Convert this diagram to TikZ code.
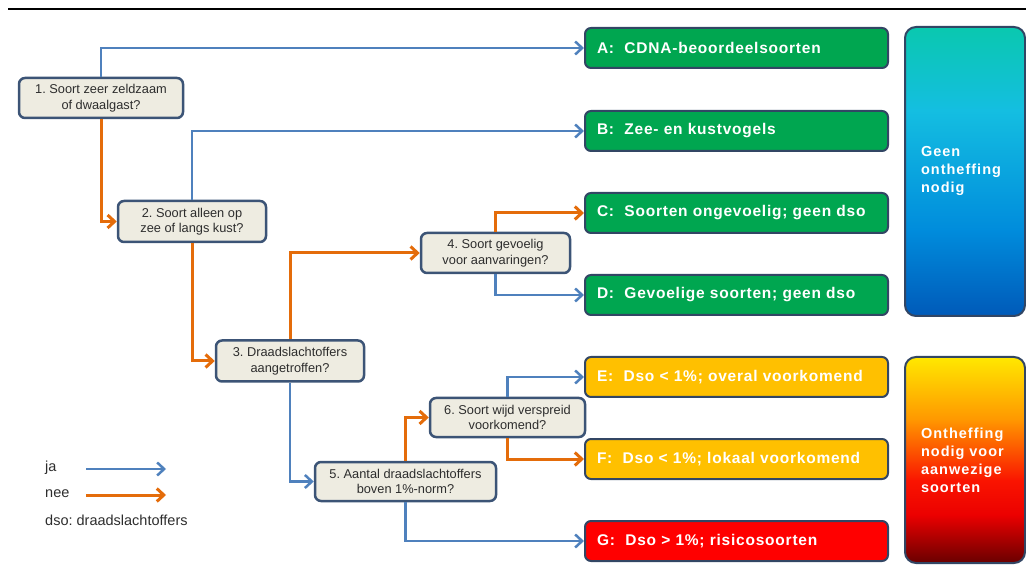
\documentclass[tikz,border=0pt]{standalone}
\usepackage{fontspec}
\setmainfont{Liberation Sans}
\newfontfamily\resfont[LetterSpace=5]{Liberation Sans}
\newfontfamily\sidefont[LetterSpace=7]{Liberation Sans}
\usetikzlibrary{arrows.meta}
\frenchspacing
\definecolor{qfill}{RGB}{238,236,225}
\definecolor{qborder}{RGB}{60,84,118}
\definecolor{qtext}{RGB}{45,45,45}
\definecolor{rborder}{RGB}{50,70,100}
\definecolor{jablue}{RGB}{79,129,189}
\definecolor{neeorange}{RGB}{228,108,10}
\definecolor{resgreen}{RGB}{0,166,80}
\definecolor{resyellow}{RGB}{255,192,0}
\definecolor{resred}{RGB}{255,0,0}
\definecolor{g1}{RGB}{10,200,175}
\definecolor{g2}{RGB}{20,190,225}
\definecolor{g3}{RGB}{0,140,220}
\definecolor{g4}{RGB}{0,90,185}
\definecolor{o1}{RGB}{255,232,0}
\definecolor{o2}{RGB}{255,150,0}
\definecolor{o3}{RGB}{250,20,0}
\definecolor{o4}{RGB}{235,0,0}
\definecolor{o5}{RGB}{105,0,0}
\tikzset{
  qbox/.style={draw=qborder, line width=2.5pt, fill=qfill, rounded corners=6pt,
    align=center, font=\fontsize{12.8}{15.5}\selectfont, text=qtext, inner sep=0pt},
  resbox/.style={draw=rborder, line width=2pt, rounded corners=6pt,
    minimum width=303pt, minimum height=40pt, text width=279pt, align=left,
    font=\resfont\bfseries\fontsize{15.5}{18}\selectfont, text=white, inner sep=0pt},
  jaline/.style={draw=jablue, line width=2.5pt, -{Straight Barb[length=7pt,width=13pt]}},
  neeline/.style={draw=neeorange, line width=3pt, -{Straight Barb[length=7pt,width=13pt]}},
  sidetext/.style={text width=88pt, align=left, text=white,
    font=\sidefont\bfseries\fontsize{14.5}{18}\selectfont, inner sep=0pt},
  legtext/.style={anchor=west, text=qtext, font=\fontsize{14.5}{16}\selectfont, inner sep=0pt}
}
\begin{document}
\begin{tikzpicture}[x=1pt,y=-1pt]
\useasboundingbox (0,0) rectangle (1026,577);
\draw[line width=1.2pt] (8,9) -- (1026,9);

% question boxes
\node[qbox, minimum width=164pt, minimum height=40pt] (b1) at (101,98) {1. Soort zeer zeldzaam\\of dwaalgast?};
\node[qbox, minimum width=148pt, minimum height=41pt] (b2) at (192,221.5) {2. Soort alleen op\\zee of langs kust?};
\node[qbox, minimum width=148pt, minimum height=41pt] (b3) at (290,361) {3. Draadslachtoffers\\aangetroffen?};
\node[qbox, minimum width=149pt, minimum height=40pt] (b4) at (495.5,253) {4. Soort gevoelig\\voor aanvaringen?};
\node[qbox, minimum width=181pt, minimum height=39pt] (b5) at (405.5,481.5) {5. Aantal draadslachtoffers\\boven 1\%-norm?};
\node[qbox, minimum width=155pt, minimum height=39pt] (b6) at (507.5,417.5) {6. Soort wijd verspreid\\voorkomend?};

% result boxes
\node[resbox, fill=resgreen] (rA) at (736.5,48) {A:\ \ CDNA-beoordeelsoorten};
\node[resbox, fill=resgreen] (rB) at (736.5,131) {B:\ \ Zee- en kustvogels};
\node[resbox, fill=resgreen] (rC) at (736.5,213) {C:\ \ Soorten ongevoelig; geen dso};
\node[resbox, fill=resgreen] (rD) at (736.5,295) {D:\ \ Gevoelige soorten; geen dso};
\node[resbox, fill=resyellow] (rE) at (736.5,377) {E:\ \ Dso < 1\%; overal voorkomend};
\node[resbox, fill=resyellow] (rF) at (736.5,459) {F:\ \ Dso < 1\%; lokaal voorkomend};
\node[resbox, fill=resred] (rG) at (736.5,541) {G:\ \ Dso > 1\%; risicosoorten};

% gradient side boxes
\begin{scope}
\clip[rounded corners=11pt] (905,27) rectangle (1025,316);
\shade[top color=g1, bottom color=g2] (905,27) rectangle (1025,111);
\shade[top color=g2, bottom color=g3] (905,110) rectangle (1025,231);
\shade[top color=g3, bottom color=g4] (905,230) rectangle (1025,316);
\end{scope}
\node[draw=rborder, line width=2pt, rounded corners=11pt, minimum width=120pt, minimum height=289pt, inner sep=0pt] (sg) at (965,171.5) {};
\node[sidetext] (sgt) at (965,171) {Geen\\ontheffing\\nodig};

\begin{scope}
\clip[rounded corners=11pt] (905,357) rectangle (1025,563);
\shade[top color=o1, bottom color=o2] (905,357) rectangle (1025,421);
\shade[top color=o2, bottom color=o3] (905,420) rectangle (1025,481);
\shade[top color=o3, bottom color=o4] (905,480) rectangle (1025,516);
\shade[top color=o4, bottom color=o5] (905,515) rectangle (1025,563);
\end{scope}
\node[draw=rborder, line width=2pt, rounded corners=11pt, minimum width=120pt, minimum height=206pt, inner sep=0pt] (so) at (965,460) {};
\node[sidetext] (sot) at (965,460) {Ontheffing\\nodig voor\\aanwezige\\soorten};

% connectors
\draw[jaline] (b1.north) |- (rA.west);
\draw[neeline] (b1.south) |- (b2.west);
\draw[jaline] (b2.north) |- (rB.west);
\draw[neeline] (b2.south) |- (b3.west);
\draw[neeline] (b3.north) |- (b4.west);
\draw[jaline] (b3.south) |- (b5.west);
\draw[neeline] (b4.north) |- (rC.west);
\draw[jaline] (b4.south) |- (rD.west);
\draw[neeline] (b5.north) |- (b6.west);
\draw[jaline] (b5.south) |- (rG.west);
\draw[jaline] (b6.north) |- (rE.west);
\draw[neeline] (b6.south) |- (rF.west);

% legend
\node[legtext] (lja) at (45,468) {ja};
\node[legtext] (lnee) at (45,494) {nee};
\node[legtext] (ldso) at (45,520) {dso: draadslachtoffers};
\coordinate (jas) at (86,469);
\coordinate (jae) at (166,469);
\coordinate (nees) at (86,495);
\coordinate (neee) at (166,495);
\draw[jaline] (jas) -- (jae);
\draw[neeline] (nees) -- (neee);
\end{tikzpicture}
\end{document}
